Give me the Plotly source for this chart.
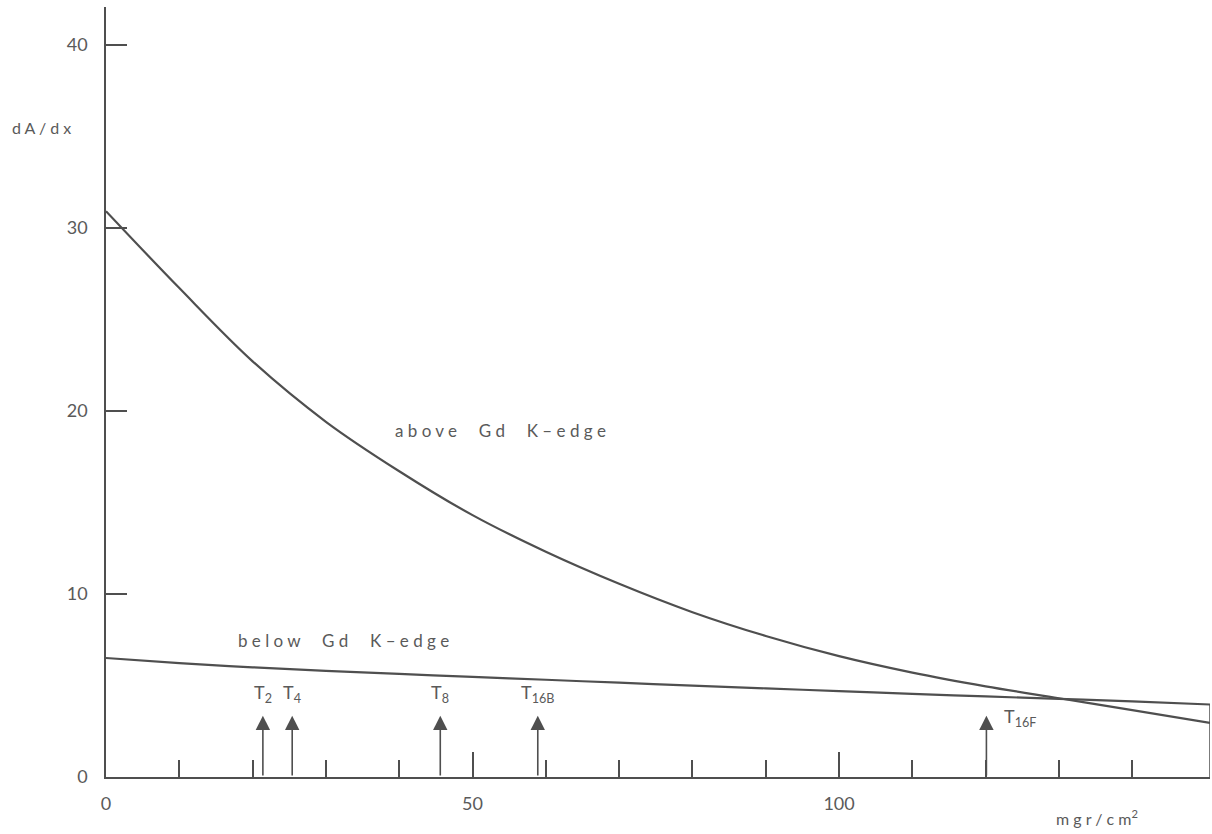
import plotly.graph_objects as go

# ---- data ----
x_thickness = [0, 10, 20, 30, 40, 50, 60, 70, 80, 90, 100, 110, 120, 130, 140, 150.6]
above_edge = [30.9, 26.7, 22.7, 19.4, 16.7, 14.3, 12.3, 10.55, 9.0, 7.7, 6.6, 5.7, 4.95, 4.3, 3.65, 2.95]
below_edge = [6.5, 6.22, 5.99, 5.8, 5.63, 5.47, 5.31, 5.15, 4.99, 4.84, 4.69, 4.54, 4.4, 4.27, 4.13, 3.96]

target_names = ["T<sub>2</sub>", "T<sub>4</sub>", "T<sub>8</sub>", "T<sub>16B</sub>", "T<sub>16F</sub>"]
target_x = [21.4, 25.4, 45.6, 58.9, 120.1]
target_level = [3.35, 3.35, 3.35, 3.35, 3.35]

x_major_ticks = [0, 50, 100]
x_minor_ticks = [10, 20, 30, 40, 60, 70, 80, 90, 110, 120, 130, 140]
y_ticks = [0, 10, 20, 30, 40]

X_MAX = 150.6
Y_MAX = 42.05

INK = "#4f4f4f"
TXT = "#5a5a5a"
FONT = "Lato"

fig = go.Figure()

fig.add_trace(go.Scatter(x=x_thickness, y=above_edge, mode="lines",
                         line=dict(color=INK, width=2.2, shape="spline", smoothing=1.0),
                         showlegend=False, hoverinfo="skip"))
fig.add_trace(go.Scatter(x=x_thickness, y=below_edge, mode="lines",
                         line=dict(color=INK, width=2.2, shape="spline", smoothing=1.0),
                         showlegend=False, hoverinfo="skip"))
# right closing edge of the frame, from the axis up to the lower curve
fig.add_trace(go.Scatter(x=[x_thickness[-1], x_thickness[-1]], y=[0, below_edge[-1]], mode="lines",
                         line=dict(color=INK, width=1.5), showlegend=False, hoverinfo="skip"))

annotations = []
for name, tx, ty in zip(target_names, target_x, target_level):
    annotations.append(dict(x=tx, y=ty, ax=tx, ay=0, xref="x", yref="y", axref="x", ayref="y",
                            text="", showarrow=True, arrowhead=2, arrowsize=1.8, arrowwidth=1.6,
                            arrowcolor=INK, standoff=0, startstandoff=0))
    if "16F" in name:
        annotations.append(dict(x=tx + 2.2, y=ty - 0.1, xref="x", yref="y", text=name, showarrow=False,
                                xanchor="left", yanchor="middle", borderpad=0,
                                font=dict(family=FONT, size=18, color=TXT)))
    else:
        annotations.append(dict(x=tx, y=ty + 0.5, xref="x", yref="y", text=name, showarrow=False,
                                xanchor="center", yanchor="bottom", borderpad=0,
                                font=dict(family=FONT, size=18, color=TXT)))

annotations += [
    dict(x=39.2, y=18.9, xref="x", yref="y", text="a b o v e     G d     K – e d g e", showarrow=False,
         xanchor="left", yanchor="middle", font=dict(family=FONT, size=17, color=TXT)),
    dict(x=17.8, y=7.45, xref="x", yref="y", text="b e l o w     G d     K – e d g e", showarrow=False,
         xanchor="left", yanchor="middle", font=dict(family=FONT, size=17, color=TXT)),
    dict(x=-0.087, y=0.843, xref="paper", yref="paper", text="d A / d x", showarrow=False,
         xanchor="left", yanchor="middle", font=dict(family=FONT, size=16, color=TXT)),
    dict(x=0.898, y=-0.053, xref="paper", yref="paper", text="m g r / c m<sup>2</sup>", showarrow=False,
         xanchor="center", yanchor="middle", font=dict(family=FONT, size=16, color=TXT)),
]

fig.update_layout(
    width=1212, height=834,
    margin=dict(l=106, r=2, t=7, b=57),
    paper_bgcolor="white", plot_bgcolor="white",
    showlegend=False,
    annotations=annotations,
    xaxis=dict(range=[0, X_MAX], showgrid=False, zeroline=False,
               showline=True, linecolor=INK, linewidth=1.6,
               tickmode="array", tickvals=x_major_ticks, ticktext=[str(v) for v in x_major_ticks],
               ticks="inside", ticklen=25, tickwidth=1.5, tickcolor=INK,
               minor=dict(tickmode="array", tickvals=x_minor_ticks, ticks="inside",
                          ticklen=17, tickwidth=1.5, tickcolor=INK, showgrid=False),
               ticklabelstandoff=10,
               tickfont=dict(family=FONT, size=18, color=TXT)),
    yaxis=dict(range=[0, Y_MAX], showgrid=False, zeroline=False,
               showline=True, linecolor=INK, linewidth=1.6,
               tickmode="array", tickvals=y_ticks, ticktext=[str(v) for v in y_ticks],
               ticks="inside", ticklen=21, tickwidth=1.5, tickcolor=INK,
               ticklabelstandoff=13,
               tickfont=dict(family=FONT, size=18, color=TXT)),
)

fig.write_html("out.html")
